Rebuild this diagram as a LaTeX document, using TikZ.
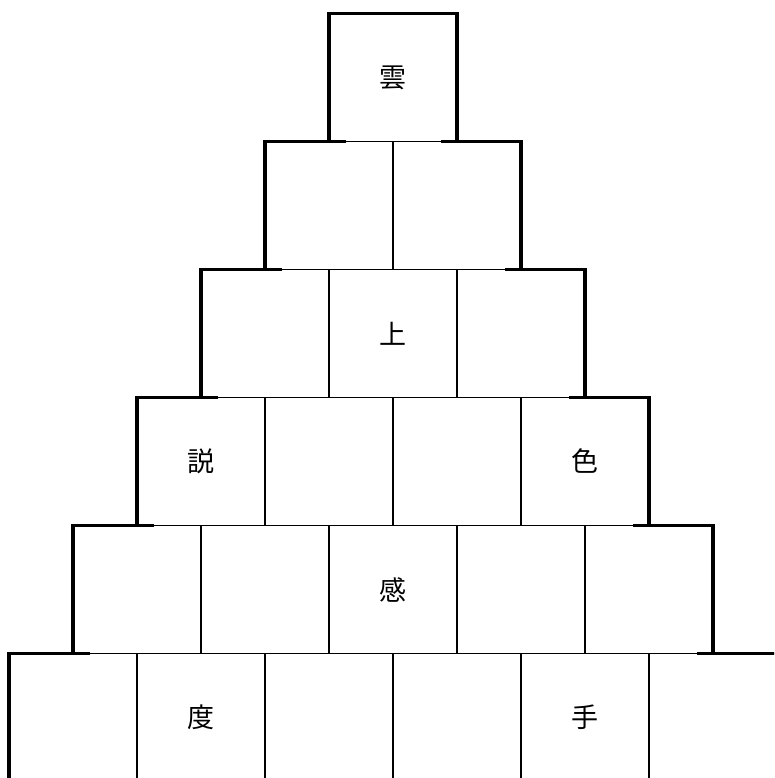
\documentclass[tikz,border=0pt]{standalone}
\usepackage{fontspec}
\newfontfamily\cjk{Noto Sans CJK JP}
\begin{document}
\begin{tikzpicture}[x=1pt,y=-1pt,
  cellbox/.style={draw=black,line width=1.2pt,minimum width=128pt,minimum height=128pt,inner sep=0pt,outer sep=0pt,font=\cjk\fontsize{27}{27}\selectfont},
  outline/.style={draw=black,line width=3.2pt,line join=miter}]
\useasboundingbox (0,0) rectangle (774,778);
\clip (0,0) rectangle (774,778);
\newcommand\mycell[4]{\node[cellbox] (#1) at (#2,#3) {#4};}
% row 0
\mycell{a0}{393}{77.5}{雲}
% row 1
\mycell{b0}{329}{205.5}{}
\mycell{b1}{457}{205.5}{}
% row 2
\mycell{c0}{265}{333.5}{}
\mycell{c1}{393}{333.5}{上}
\mycell{c2}{521}{333.5}{}
% row 3
\mycell{d0}{201}{461.5}{説}
\mycell{d1}{329}{461.5}{}
\mycell{d2}{457}{461.5}{}
\mycell{d3}{585}{461.5}{色}
% row 4
\mycell{e0}{137}{589.5}{}
\mycell{e1}{265}{589.5}{}
\mycell{e2}{393}{589.5}{感}
\mycell{e3}{521}{589.5}{}
\mycell{e4}{649}{589.5}{}
% row 5
\mycell{f0}{73}{717.5}{}
\mycell{f1}{201}{717.5}{度}
\mycell{f2}{329}{717.5}{}
\mycell{f3}{457}{717.5}{}
\mycell{f4}{585}{717.5}{手}
\mycell{f5}{713}{717.5}{}
% thick outline
\path[outline] (329,141.5) -- (329,13.5) -- (457,13.5) -- (457,141.5);
\path[outline] (346,141.5) -- (265,141.5) -- (265,269.5);
\path[outline] (282,269.5) -- (201,269.5) -- (201,397.5);
\path[outline] (218,397.5) -- (137,397.5) -- (137,525.5);
\path[outline] (154,525.5) -- (73,525.5) -- (73,653.5);
\path[outline] (90,653.5) -- (9,653.5) -- (9,790);
\path[outline] (441,141.5) -- (521,141.5) -- (521,269.5);
\path[outline] (505,269.5) -- (585,269.5) -- (585,397.5);
\path[outline] (569,397.5) -- (649,397.5) -- (649,525.5);
\path[outline] (633,525.5) -- (713,525.5) -- (713,653.5);
\path[outline] (697,653.5) -- (777,653.5) -- (777,790);
\end{tikzpicture}
\end{document}
